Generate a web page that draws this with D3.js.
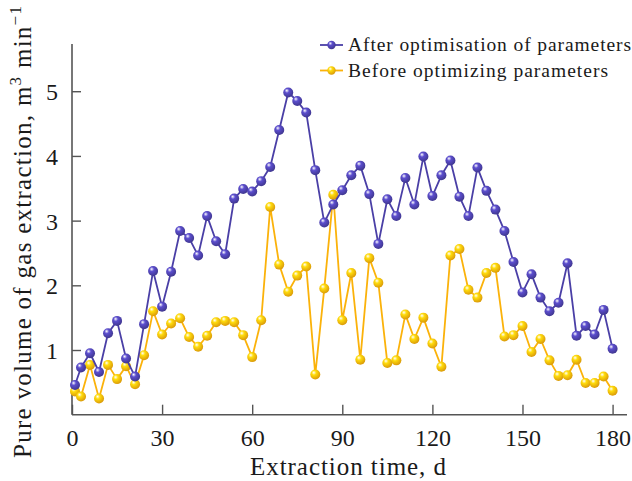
<!DOCTYPE html>
<html><head><meta charset="utf-8">
<script src="https://cdn.jsdelivr.net/npm/d3@7"></script>
<style>body{margin:0;background:#fff}svg{display:block}text{font-family:"Liberation Serif","Times New Roman",serif;fill:#1a1a1a}</style>
</head><body>
<script>
const days = [1,3,6,9,12,15,18,21,24,27,30,33,36,39,42,45,48,51,54,57,60,63,66,69,72,75,78,81,84,87,90,93,96,99,102,105,108,111,114,117,120,123,126,129,132,135,138,141,144,147,150,153,156,159,162,165,168,171,174,177,180];
const afterOpt = [0.46,0.73,0.95,0.66,1.26,1.45,0.87,0.59,1.40,2.22,1.67,2.21,2.84,2.73,2.46,3.07,
2.68,2.48,3.34,3.49,3.45,3.61,3.83,4.40,4.98,4.85,4.67,3.78,2.97,3.25,3.47,3.70,
3.85,3.41,2.64,3.33,3.07,3.66,3.25,3.99,3.38,3.70,3.93,3.37,3.07,3.82,3.46,
3.17,2.84,2.36,1.89,2.17,1.81,1.60,1.73,2.34,1.22,1.37,1.24,1.62,1.02];
const beforeOpt = [0.36,0.28,0.77,0.25,0.77,0.55,0.75,0.47,0.92,1.60,1.24,1.41,1.49,1.20,1.05,1.22,
1.43,1.45,1.43,1.23,0.89,1.46,3.21,2.32,1.90,2.15,2.29,0.62,1.95,3.40,1.46,2.19,
0.85,2.42,2.04,0.80,0.84,1.55,1.17,1.50,1.10,0.74,2.46,2.56,1.93,1.81,2.19,
2.27,1.21,1.23,1.37,0.97,1.17,0.84,0.60,0.61,0.85,0.49,0.49,0.59,0.37];
const xTicks = [0,30,60,90,120,150,180];
const yTicks = [1,2,3,4,5];
const seriesNames = ["After optimisation of parameters","Before optimizing parameters"];
const seriesColors = ["#4a3fa6","#fbb20a"];

const W=632,H=481;
const svg=d3.select("body").append("svg").attr("width",W).attr("height",H);
const x=d3.scaleLinear().domain([0,184.8]).range([72,627]);
const y=d3.scaleLinear().domain([0,5.73]).range([414.7,44]);

// stretch text to a target width (reference font is set wider)
function fitWidth(sel,target){
  const n=sel.text().length;
  const len=sel.node().getComputedTextLength();
  sel.attr("letter-spacing",((target-len)/Math.max(1,n-1)).toFixed(3));
}

const defs=svg.append("defs");
seriesColors.forEach((c,i)=>{
  const g=defs.append("radialGradient").attr("id","g"+i).attr("cx","40%").attr("cy","35%").attr("r","65%").attr("fx","35%").attr("fy","30%");
  g.append("stop").attr("offset","0%").attr("stop-color","#ffffff");
  g.append("stop").attr("offset","35%").attr("stop-color",d3.color(c).brighter(0.6));
  g.append("stop").attr("offset","100%").attr("stop-color",d3.color(c).darker(0.4));
});

const axisColor="#555";
const xAxis=svg.append("g").attr("transform","translate(0,414.7)")
  .call(d3.axisBottom(x).tickValues(xTicks).tickSize(-10).tickPadding(14).tickFormat(d3.format("d")));
const yAxis=svg.append("g").attr("transform","translate(72,0)")
  .call(d3.axisLeft(y).tickValues(yTicks).tickSize(-9).tickPadding(14).tickFormat(d3.format("d")));
[xAxis,yAxis].forEach(a=>{
  a.select(".domain").attr("stroke",axisColor).attr("stroke-width",1.6);
  a.selectAll(".tick line").attr("stroke",axisColor).attr("stroke-width",1.4);
  a.selectAll(".tick text").attr("font-size",24).attr("font-family","Liberation Serif").attr("fill","#1a1a1a");
});
xAxis.select(".domain").attr("d","M72,0H627");
yAxis.select(".domain").attr("d","M0,414.7V44");
xAxis.selectAll(".tick text").attr("dy","0.71em");
yAxis.selectAll(".tick text").attr("dy","0.35em");

const series=[afterOpt,beforeOpt];
const line=d3.line().x((d,i)=>x(days[i])).y(d=>y(d));
[1,0].forEach(si=>{
  const vals=series[si];
  svg.append("path").datum(vals).attr("d",line).attr("fill","none")
    .attr("stroke",seriesColors[si]).attr("stroke-width",1.8).attr("stroke-linejoin","round");
  svg.append("g").selectAll("circle").data(vals).join("circle")
    .attr("cx",(d,i)=>x(days[i])).attr("cy",d=>y(d)).attr("r",5)
    .attr("fill","url(#g"+si+")");
});

// legend
const leg=svg.append("g");
const legW=[283,260];
seriesNames.forEach((n,i)=>{
  const yy=45+i*25.5;
  leg.append("line").attr("x1",320).attr("x2",343).attr("y1",yy).attr("y2",yy).attr("stroke",seriesColors[i]).attr("stroke-width",1.8);
  leg.append("circle").attr("cx",331.5).attr("cy",yy).attr("r",4.2).attr("fill","url(#g"+i+")");
  const t=leg.append("text").attr("x",348).attr("y",yy).attr("dy","0.33em").attr("font-size",19.5).text(n);
  fitWidth(t,legW[i]);
});

const xt=svg.append("text").attr("x",250).attr("y",475).attr("font-size",25).text("Extraction time, d");
fitWidth(xt,196);

const yl=svg.append("text").attr("transform","translate(31,458) rotate(-90)").attr("text-anchor","start").attr("font-size",25);
yl.append("tspan").text("Pure volume of gas extraction, m");
yl.append("tspan").attr("dy",-10).attr("font-size",17).text("3");
yl.append("tspan").attr("dy",10).text(" min");
yl.append("tspan").attr("dy",-10).attr("font-size",17).text("−1");
{
  const len=yl.node().getComputedTextLength();
  const n=yl.text().length;
  yl.attr("letter-spacing",((452-len)/(n-1)).toFixed(3));
}
</script>
</body></html>
